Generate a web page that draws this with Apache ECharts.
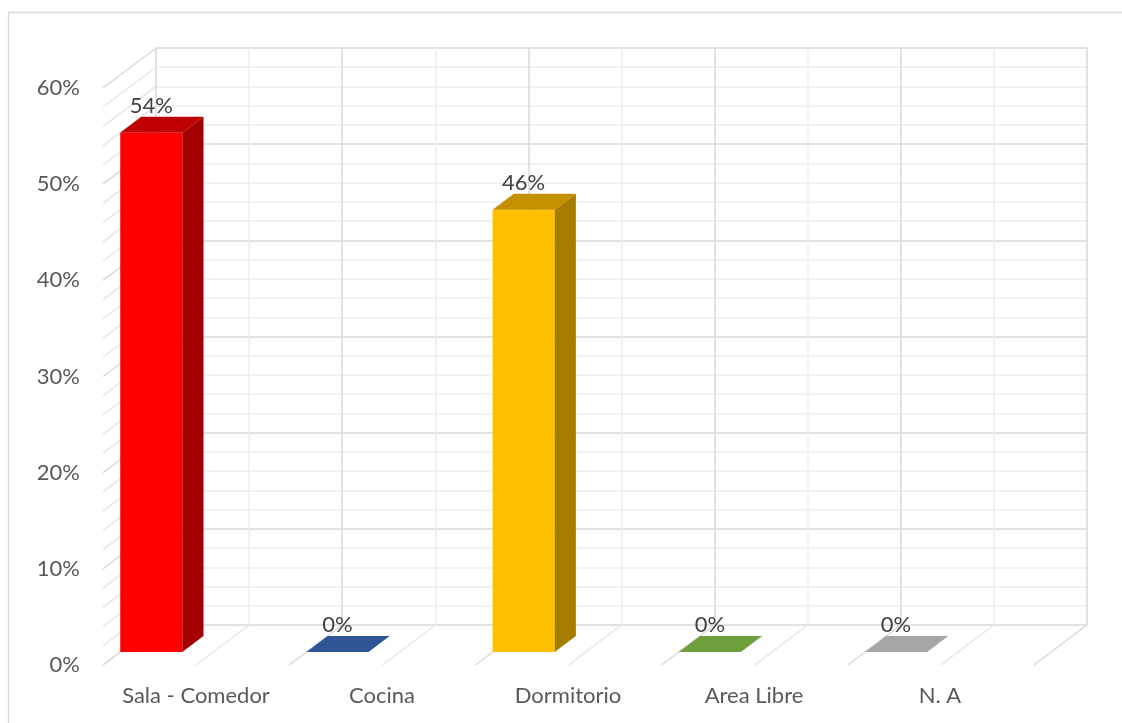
<!DOCTYPE html>
<html>
<head>
<meta charset="utf-8">
<script src="https://cdn.jsdelivr.net/npm/echarts@6/dist/echarts.min.js"></script>
<style>
  html, body { margin: 0; padding: 0; background: #fff; }
  #chart { width: 1122px; height: 723px; }
</style>
</head>
<body>
<div id="chart"></div>
<script>
const categories = ['Sala - Comedor', 'Cocina', 'Dormitorio', 'Area Libre', 'N. A']
const values = [54, 0, 46, 0, 0]
const frontColors = ['#ff0000', '#4472c4', '#ffc000', '#70ad47', '#a5a5a5']
const topColors = ['#c00000', '#2f5597', '#c49000', '#6d9f3c', '#a6a6a6']
const sideColors = ['#a30000', '#24447a', '#a67d00', '#4f7a30', '#7c7c7c']
const yTicks = [0, 10, 20, 30, 40, 50, 60]

// 3D look: front plane is the back wall moved by (DX, DY)
const back = { left: 156, top: 48, width: 931, height: 577 }
const DX = -53
const DY = 40
const FRONT = 0.675 // bar front face depth
const REAR = 0.275 // bar rear face depth
const BAR_W = 1 / 3

const textColor = '#595959'
const font = 'Lato'
const fontSize = 22

const chart = echarts.init(document.getElementById('chart'))

// wall lines: side wall at every minor y tick, floor at every half category
const wallData = []
for (let v = yTicks[0]; v <= yTicks[yTicks.length - 1]; v += 2) wallData.push([0, v])
for (let c = 0; c <= categories.length * 2; c++) wallData.push([1, c / 2])

const barData = values.map((v, i) => [i, v])

chart.setOption({
  animation: false,
  backgroundColor: '#fff',
  graphic: [
    {
      type: 'rect',
      shape: { x: 8.5, y: 12.5, width: 1200, height: 800 },
      style: { fill: 'none', stroke: '#d9d9d9', lineWidth: 1.3 },
      silent: true,
      z: -10,
    },
  ],
  grid: [
    { left: back.left, top: back.top, width: back.width, height: back.height },
    { left: back.left + DX, top: back.top + DY, width: back.width - 1, height: back.height },
  ],
  xAxis: [
    {
      type: 'value',
      gridIndex: 0,
      min: 0,
      max: categories.length,
      interval: 1,
      axisLine: { show: false },
      axisTick: { show: false },
      axisLabel: { show: false },
      splitLine: { show: true, lineStyle: { color: '#d9d9d9', width: 1.5 } },
      minorTick: { show: false, splitNumber: 2 },
      minorSplitLine: { show: true, lineStyle: { color: '#eeeeee', width: 1.5 } },
    },
    {
      type: 'category',
      gridIndex: 1,
      data: categories,
      axisLine: { show: false },
      axisTick: { show: false },
      splitLine: { show: false },
      axisLabel: {
        color: textColor,
        fontFamily: font,
        fontSize: fontSize,
        lineHeight: 22,
        margin: 20,
        interval: 0,
      },
    },
  ],
  yAxis: [
    {
      type: 'value',
      gridIndex: 0,
      min: 0,
      max: 60,
      interval: 10,
      axisLine: { show: false },
      axisTick: { show: false },
      axisLabel: { show: false },
      splitLine: { show: true, lineStyle: { color: '#d9d9d9', width: 1.5 } },
      minorTick: { show: false, splitNumber: 5 },
      minorSplitLine: { show: true, lineStyle: { color: '#eeeeee', width: 1.5 } },
    },
    {
      type: 'value',
      gridIndex: 1,
      min: 0,
      max: 60,
      interval: 10,
      axisLine: { show: false },
      axisTick: { show: false },
      splitLine: { show: false },
      axisLabel: {
        color: textColor,
        fontFamily: font,
        fontSize: fontSize,
        margin: 23,
        padding: [4, 0, 0, 0],
        formatter: '{value}%',
      },
    },
  ],
  series: [
    {
      type: 'custom',
      name: 'walls',
      xAxisIndex: 0,
      yAxisIndex: 0,
      clip: false,
      silent: true,
      z: 1,
      data: wallData,
      renderItem: (params, api) => {
        const kind = api.value(0)
        const v = api.value(1)
        const p = kind === 0 ? api.coord([0, v]) : api.coord([v, 0])
        const major = kind === 0 ? v % 10 === 0 : v % 1 === 0
        return {
          type: 'line',
          shape: { x1: p[0], y1: p[1], x2: p[0] + DX, y2: p[1] + DY },
          style: { stroke: major ? '#d9d9d9' : '#e6e6e6', lineWidth: 1.5 },
        }
      },
    },
    {
      type: 'custom',
      name: 'bars',
      xAxisIndex: 0,
      yAxisIndex: 0,
      clip: false,
      z: 5,
      data: barData,
      renderItem: (params, api) => {
        const i = api.value(0)
        const v = api.value(1)
        const x0 = api.coord([i, 0])[0]
        const x1 = api.coord([i + BAR_W, 0])[0]
        const yb = api.coord([i, 0])[1]
        const yt = api.coord([i, v])[1]
        const fx = DX * FRONT, fy = DY * FRONT
        const bx = DX * REAR, by = DY * REAR
        const children = []
        if (yb - yt > 0.5) {
          children.push({
            type: 'rect',
            shape: { x: x0 + fx, y: yt + fy, width: x1 - x0, height: yb - yt },
            style: { fill: frontColors[i] },
          })
          children.push({
            type: 'polygon',
            shape: { points: [[x1 + fx, yt + fy], [x1 + bx, yt + by], [x1 + bx, yb + by], [x1 + fx, yb + fy]] },
            style: { fill: sideColors[i] },
          })
        }
        children.push({
          type: 'polygon',
          shape: { points: [[x0 + fx, yt + fy], [x1 + fx, yt + fy], [x1 + bx, yt + by], [x0 + bx, yt + by]] },
          style: { fill: topColors[i] },
        })
        children.push({
          type: 'text',
          x: (x0 + x1) / 2 + fx,
          y: yt + by,
          style: {
            text: v + '%',
            fill: '#404040',
            font: fontSize + 'px ' + font,
            align: 'center',
            verticalAlign: 'bottom',
          },
        })
        return { type: 'group', children }
      },
    },
  ],
})
</script>
</body>
</html>
